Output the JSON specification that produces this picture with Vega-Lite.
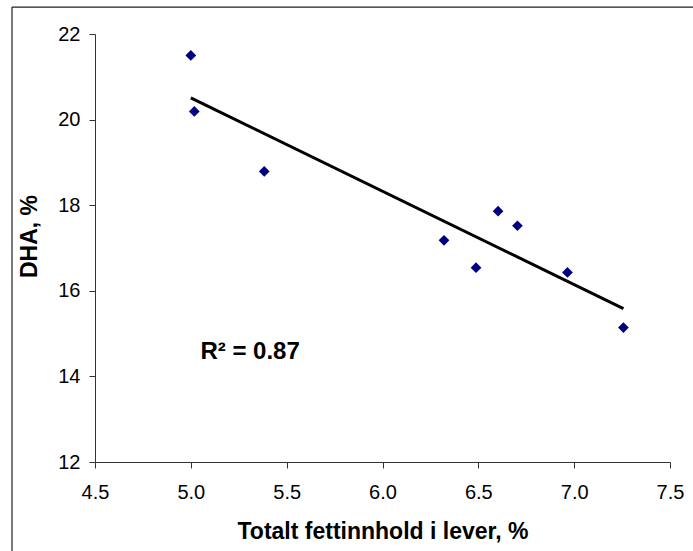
{
  "$schema": "https://vega.github.io/schema/vega-lite/v6.json",
  "width": 575,
  "height": 428,
  "autosize": {"type": "none"},
  "padding": {"left": 95, "top": 34, "right": 23, "bottom": 89},
  "background": "white",
  "config": {
    "view": {"stroke": null},
    "font": "Liberation Sans",
    "axis": {
      "grid": false,
      "domainColor": "#333333",
      "tickColor": "#333333",
      "tickSize": 6,
      "labelFlush": false,
      "labelColor": "black",
      "labelFont": "Liberation Sans",
      "labelFontSize": 20,
      "titleColor": "black",
      "titleFont": "Liberation Sans",
      "titleFontSize": 23,
      "titleFontWeight": "bold"
    }
  },
  "data": {
    "values": [
      {"fett": 5.0, "DHA": 21.5},
      {"fett": 5.018, "DHA": 20.19},
      {"fett": 5.383, "DHA": 18.79},
      {"fett": 6.321, "DHA": 17.18},
      {"fett": 6.488, "DHA": 16.54},
      {"fett": 6.603, "DHA": 17.86},
      {"fett": 6.704, "DHA": 17.52},
      {"fett": 6.965, "DHA": 16.43},
      {"fett": 7.257, "DHA": 15.14}
    ]
  },
  "layer": [
    {
      "data": {"values": [{}]},
      "mark": {"type": "rule", "color": "#222222", "strokeWidth": 1.2, "clip": false},
      "encoding": {
        "x": {"datum": 4.067, "type": "quantitative", "scale": {"domain": [4.5, 7.5], "nice": false, "zero": false}},
        "y": {"datum": 22.63, "type": "quantitative", "scale": {"domain": [12, 22], "nice": false, "zero": false}},
        "y2": {"datum": 9.5}
      }
    },
    {
      "data": {"values": [{}]},
      "mark": {"type": "rule", "color": "#222222", "strokeWidth": 1.2, "clip": false},
      "encoding": {
        "x": {"datum": 4.067, "type": "quantitative", "scale": {"domain": [4.5, 7.5], "nice": false, "zero": false}},
        "x2": {"datum": 7.8},
        "y": {"datum": 22.63, "type": "quantitative", "scale": {"domain": [12, 22], "nice": false, "zero": false}}
      }
    },
    {
      "mark": {"type": "point", "shape": "diamond", "filled": true, "color": "#000080", "size": 115, "opacity": 1},
      "encoding": {
        "x": {
          "field": "fett",
          "type": "quantitative",
          "scale": {"domain": [4.5, 7.5], "nice": false, "zero": false},
          "axis": {
            "values": [4.5, 5.0, 5.5, 6.0, 6.5, 7.0, 7.5],
            "format": ".1f",
            "labelPadding": 14,
            "title": "Totalt fettinnhold i lever, %",
            "titleBaseline": "alphabetic",
            "titleY": 76
          }
        },
        "y": {
          "field": "DHA",
          "type": "quantitative",
          "scale": {"domain": [12, 22], "nice": false, "zero": false},
          "axis": {
            "values": [12, 14, 16, 18, 20, 22],
            "format": "d",
            "labelPadding": 9,
            "title": "DHA,  %",
            "titleAngle": 270,
            "titleAlign": "center",
            "titleBaseline": "middle",
            "titleX": -66,
            "titleY": 202
          }
        }
      }
    },
    {
      "transform": [{"regression": "DHA", "on": "fett"}],
      "mark": {"type": "line", "color": "black", "strokeWidth": 3},
      "encoding": {
        "x": {"field": "fett", "type": "quantitative", "scale": {"domain": [4.5, 7.5], "nice": false, "zero": false}},
        "y": {"field": "DHA", "type": "quantitative", "scale": {"domain": [12, 22], "nice": false, "zero": false}}
      }
    },
    {
      "data": {"values": [{}]},
      "mark": {"type": "text", "text": "R² = 0.87", "align": "left", "baseline": "middle", "fontSize": 24, "fontWeight": "bold", "color": "black", "font": "Liberation Sans"},
      "encoding": {
        "x": {"datum": 5.05, "type": "quantitative", "scale": {"domain": [4.5, 7.5], "nice": false, "zero": false}},
        "y": {"datum": 14.57, "type": "quantitative", "scale": {"domain": [12, 22], "nice": false, "zero": false}}
      }
    }
  ]
}
